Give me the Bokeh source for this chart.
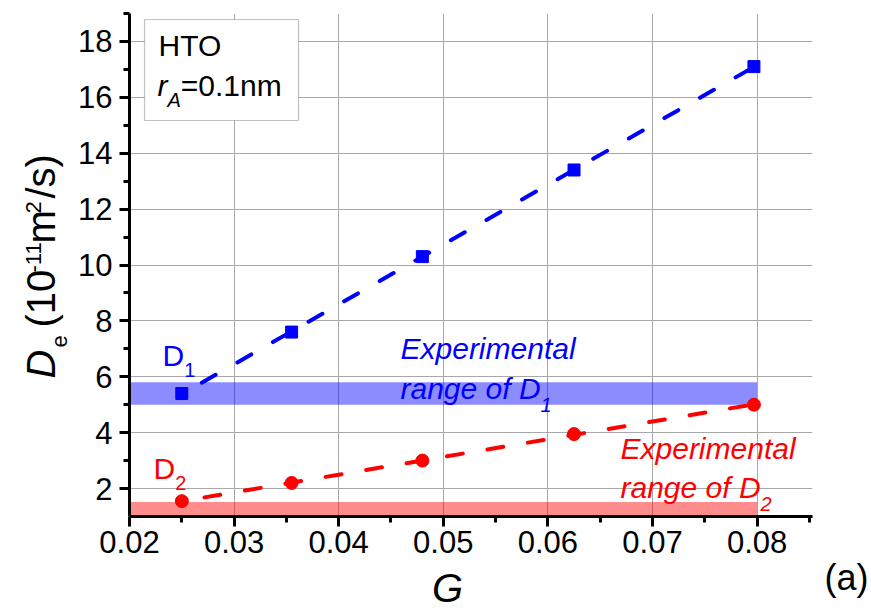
import math
import numpy as np
from bokeh.plotting import figure
from bokeh.layouts import row, column
from bokeh.models import Range1d, FixedTicker, Label, BoxAnnotation, NumeralTickFormatter
from bokeh.embed import file_html
from bokeh.resources import INLINE

# ---- data -------------------------------------------------------------
G = [0.025, 0.0355, 0.048, 0.0625, 0.0797]          # gradient G
D1 = [5.4, 7.6, 10.3, 13.4, 17.1]                   # D1 (10^-11 m^2/s)
D2 = [1.55, 2.2, 3.0, 3.95, 5.0]                    # D2 (10^-11 m^2/s)
EXP_G = [0.02, 0.08]                                 # extent of the experimental bands
D1_EXP = [5.0, 5.8]                                  # experimental range of D1
D2_EXP = [1.05, 1.52]                                # experimental range of D2
X_TICKS = [0.02, 0.03, 0.04, 0.05, 0.06, 0.07, 0.08]
X_MINOR = [0.025, 0.035, 0.045, 0.055, 0.065, 0.075, 0.085]
Y_TICKS = [2, 4, 6, 8, 10, 12, 14, 16, 18]
Y_MINOR = [3, 5, 7, 9, 11, 13, 15, 17, 19]

# ---- layout -----------------------------------------------------------
W, H = 871, 609
LW = 75            # left strip: vertical axis title
RW = 56            # right strip: panel tag
BY = 563           # top of the bottom strip: horizontal axis title
FL, FR, FT, FB = 129, 812, 13, 516
X0, X1 = 0.02, 0.0853
Y0, Y1 = 1.0, 19.0
FONT = "Liberation Sans"
BLUE, RED = "#0000ff", "#ff0000"
BASE = 0.35        # label anchor sits this many em above the glyph baseline


def X(px):
    return X0 + (px - FL) * (X1 - X0) / (FR - FL)


def Y(py):
    return Y1 - (py - FT) * (Y1 - Y0) / (FB - FT)


p = figure(width=W - LW - RW, height=BY, x_range=Range1d(X0, X1),
           y_range=Range1d(Y0, Y1), output_backend="svg", toolbar_location=None,
           min_border_left=FL - LW, min_border_right=W - RW - FR,
           min_border_top=FT, min_border_bottom=BY - FB)
p.outline_line_color = None
p.background_fill_color = "white"
p.border_fill_color = "white"
p.frame_align = False

# axes
p.xaxis.ticker = FixedTicker(ticks=X_TICKS, minor_ticks=X_MINOR)
p.yaxis.ticker = FixedTicker(ticks=Y_TICKS, minor_ticks=Y_MINOR)
p.xaxis.formatter = NumeralTickFormatter(format="0.00")
p.yaxis.formatter = NumeralTickFormatter(format="0")
for ax in (p.xaxis, p.yaxis):
    ax.axis_line_width = 3
    ax.axis_line_color = "black"
    ax.major_tick_line_width = 3
    ax.minor_tick_line_width = 3
    ax.major_tick_out = 10
    ax.major_tick_in = 0
    ax.minor_tick_out = 6
    ax.minor_tick_in = 0
    ax.major_label_text_font = FONT
    ax.major_label_text_font_size = "31px"
    ax.major_label_text_color = "black"
p.xaxis.major_label_standoff = 4
p.yaxis.major_label_standoff = 7
p.grid.grid_line_color = "#a8a8a8"
p.grid.grid_line_width = 1

# experimental bands
p.quad(left=[EXP_G[0]], right=[EXP_G[1]], bottom=[D1_EXP[0]], top=[D1_EXP[1]],
       fill_color=BLUE, fill_alpha=0.45, line_color=None)
p.quad(left=[EXP_G[0]], right=[EXP_G[1]], bottom=[D2_EXP[0]], top=[D2_EXP[1]],
       fill_color=RED, fill_alpha=0.45, line_color=None)

# linear fits, dashed
for ys, col in ((D1, BLUE), (D2, RED)):
    coef = np.polyfit(G, ys, 1)
    xs = [G[0], G[-1]]
    p.line(xs, list(np.polyval(coef, xs)), line_color=col, line_width=4,
           line_dash="16 25", line_dash_offset=18, line_cap="round")

p.scatter(G, D1, marker="square", size=12, color=BLUE)
p.scatter(G, D2, marker="circle", size=13, color=RED)


# side strips for titles; their ranges are page pixels
def strip(w, h, x_lo, y_lo):
    f = figure(width=w, height=h, x_range=Range1d(x_lo, x_lo + w),
               y_range=Range1d(y_lo + h, y_lo), output_backend="svg",
               toolbar_location=None, x_axis_type=None, y_axis_type=None,
               min_border=0, min_border_left=0, min_border_right=0,
               min_border_top=0, min_border_bottom=0)
    f.outline_line_color = None
    f.grid.visible = False
    f.frame_align = False
    return f


ylab = strip(LW, H, 0, 0)
xlab = strip(W - LW - RW, H - BY, LW, BY)
tag = strip(RW, H, W - RW, 0)

# ---- texts ------------------------------------------------------------
ADV = {"D": .722, "e": .556, "(": .333, ")": .333, "1": .556, "0": .556, "-": .333,
       "m": .833, "2": .556, "/": .278, "s": .5, "r": .333, "A": .667, "=": .584,
       ".": .278, "n": .556, "H": .722, "T": .611, "O": .778, "a": .556, "g": .556,
       "o": .556, "f": .278, " ": .278, "E": .667, "x": .5, "p": .556, "i": .222,
       "t": .278, "l": .222}


def advance(s, size):
    return sum(ADV.get(c, .556) for c in s) * size


def label(fig, text, px, py, size, color="black", style="normal", align="left",
          rotated=False):
    """Text whose glyph baseline passes through page pixel (px, py)."""
    if rotated:
        px -= BASE * size
    else:
        py -= BASE * size
    if fig is p:
        px, py = X(px), Y(py)
    fig.add_layout(Label(x=px, y=py, text=text, text_font=FONT,
                         text_font_size=f"{size}px", text_font_style=style,
                         text_color=color, text_align=align,
                         text_baseline="alphabetic",
                         angle=math.pi / 2 if rotated else 0))


def rich(fig, parts, px, py, color):
    """parts: (text, size, shift, style); positive shift lowers a run."""
    for text, size, shift, style in parts:
        label(fig, text, px, py + shift, size, color, style)
        px += advance(text, size)


# info box
p.add_layout(BoxAnnotation(left=X(144), right=X(298), top=Y(19), bottom=Y(120),
                           fill_color="white", fill_alpha=1.0,
                           line_color="#333333", line_width=1.2))
rich(p, [("HTO", 30, 0, "normal")], 158, 55, "black")
rich(p, [("r", 30, 0, "italic"), ("A", 20, 11, "italic"), ("=0.1nm", 30, 0, "normal")],
     157, 95, "black")

# series tags
rich(p, [("D", 30, 0, "normal"), ("1", 20, 11, "normal")], 162, 365, BLUE)
rich(p, [("D", 30, 0, "normal"), ("2", 20, 11, "normal")], 153, 478, RED)

# band captions
rich(p, [("Experimental", 30, 0, "italic")], 400, 358, BLUE)
rich(p, [("range of D", 30, 0, "italic"), ("1", 20, 13, "italic")], 400, 398, BLUE)
rich(p, [("Experimental", 30, 0, "italic")], 620, 458, RED)
rich(p, [("range of D", 30, 0, "italic"), ("2", 20, 13, "italic")], 620, 497, RED)

# vertical axis title, read bottom to top: (text, size, baseline x, start y, style)
for text, size, bx, sy, style in [("D", 40, 54, 378, "italic"),
                                  ("e", 22, 67, 347, "normal"),
                                  ("(10", 40, 54, 327, "normal"),
                                  ("-11", 22, 41, 272, "normal"),
                                  ("m", 40, 54, 243, "normal"),
                                  ("2", 22, 41, 213, "normal"),
                                  ("/s)", 40, 54, 198, "normal")]:
    label(ylab, text, bx, sy, size, style=style, rotated=True)

label(xlab, "G", 447, 601, 40, style="italic", align="center")
label(tag, "(a)", 868, 590, 36, align="right")

layout = row(ylab, column(p, xlab), tag)
open("out.html", "w").write(file_html(layout, INLINE))
